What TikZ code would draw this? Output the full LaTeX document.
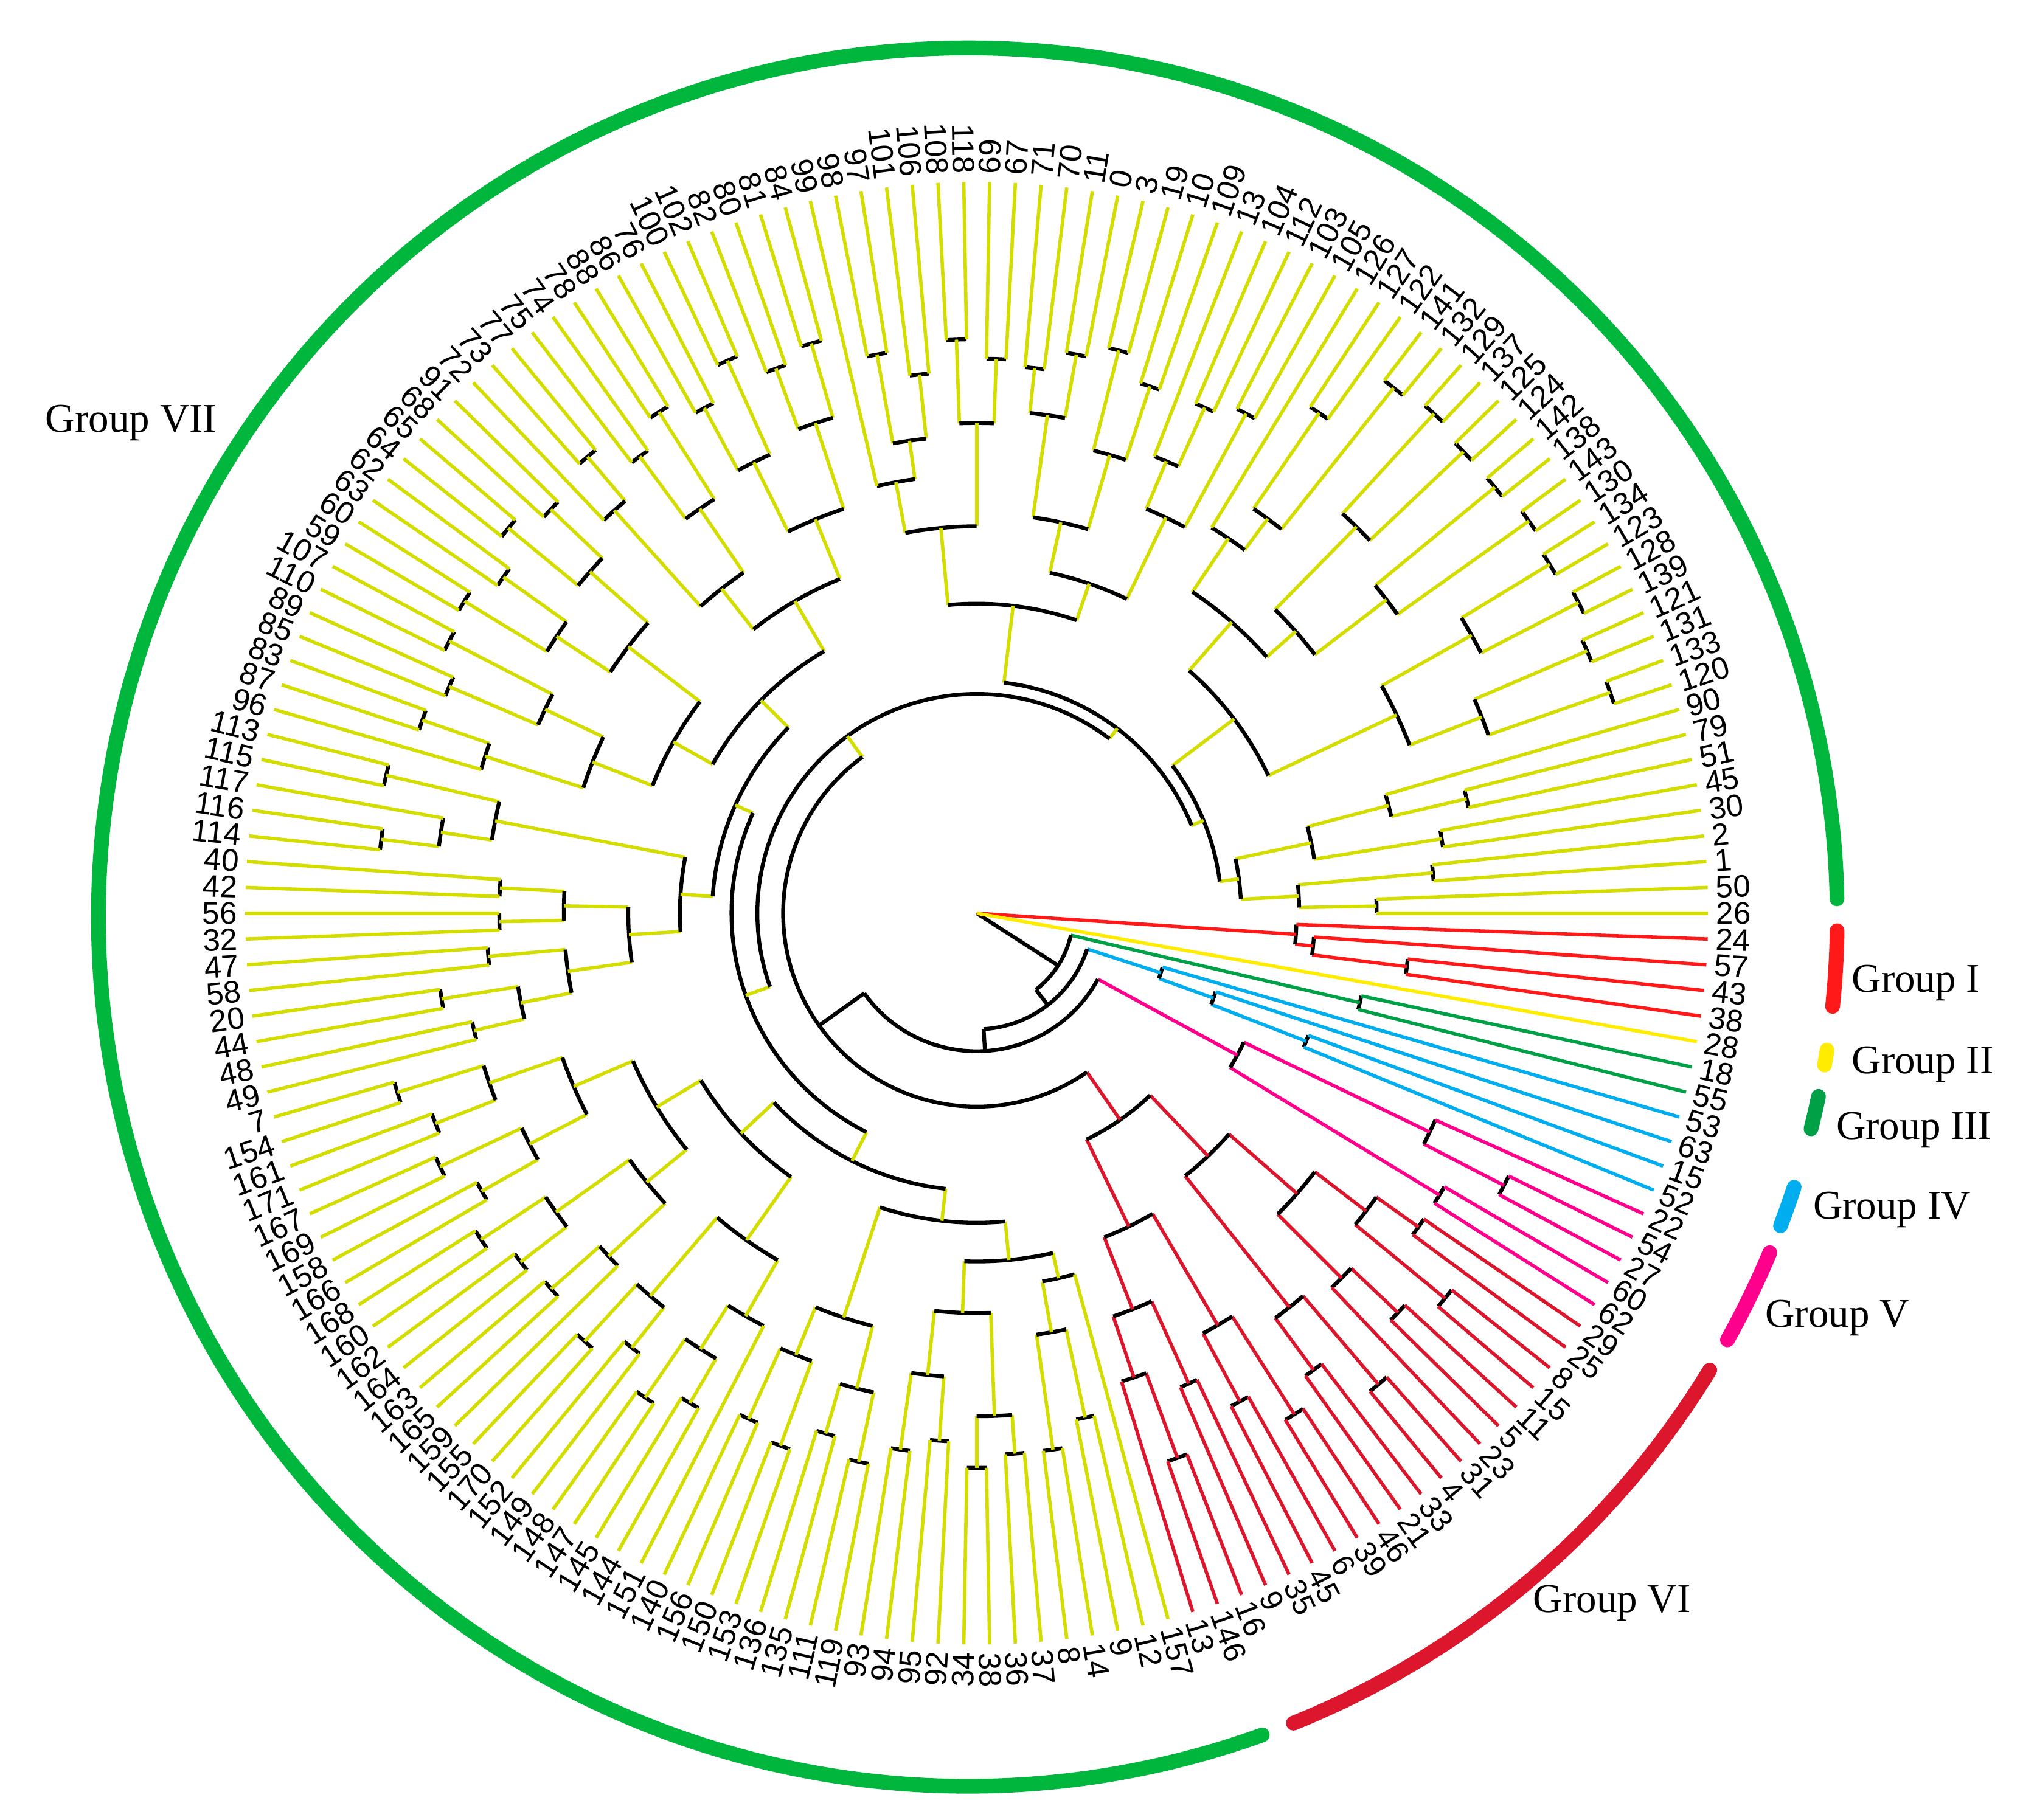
\documentclass[tikz,border=0pt]{standalone}
\usepackage{fontspec}
\setmainfont{Liberation Serif}
\newfontfamily\lblfont{Liberation Sans}
\definecolor{leafy}{RGB}{212,221,0}
\definecolor{gIred}{RGB}{255,25,25}
\definecolor{gIIyel}{RGB}{255,236,0}
\definecolor{gIIIgrn}{RGB}{0,160,70}
\definecolor{gIVblu}{RGB}{0,174,239}
\definecolor{gVmag}{RGB}{255,0,140}
\definecolor{gVIred}{RGB}{220,22,45}
\definecolor{ringgrn}{RGB}{0,182,60}
\newcommand\Dk{2.02247191}
\newcommand\Rl{567}
\newcommand\Rlab{573}
\tikzset{
 arcs/.style={draw=black,line width=1.7pt},
 br/.style={line width=1.5pt},
 lbl/.style={font=\lblfont\fontsize{13.7}{14}\selectfont, inner sep=0pt},
 grp/.style={font=\fontsize{18}{20}\selectfont, inner sep=0pt, anchor=west},
 ring/.style={line width=6.5pt, line cap=round},
}
\newcommand\cl[5]{%
 \draw[arcs] ({(#1)*\Dk}:#3) arc[start angle={(#1)*\Dk}, end angle={(#2)*\Dk}, radius={#3*0.02cm}];%
 \draw[br,#5] ({((#1)+(#2))/2*\Dk}:#3) -- ({((#1)+(#2))/2*\Dk}:#4);}
\newcommand\cy[4]{\cl{#1}{#2}{#3}{#4}{leafy}}
\newcommand\lf[4]{%
 \draw[br,#3] ({(#1)*\Dk}:\Rl) -- ({(#1)*\Dk}:#2);%
 \pgfmathsetmacro\lang{(#1)*\Dk}%
 \ifdim\lang pt>90pt\relax
   \ifdim\lang pt<270pt\relax
     \node[lbl,anchor=east,rotate=\lang-180] (L#1) at (\lang:\Rlab) {#4};%
   \else
     \node[lbl,anchor=west,rotate=\lang] (L#1) at (\lang:\Rlab) {#4};%
   \fi
 \else
   \node[lbl,anchor=west,rotate=\lang] (L#1) at (\lang:\Rlab) {#4};%
 \fi}
\begin{document}
\begin{tikzpicture}[x=0.02cm,y=0.02cm]
\useasboundingbox (-757,-703) rectangle (811,708);
\coordinate (root) at (0,0);
% ---------------- Group VII clades
\cy{0}{1}{310}{250}\cy{2}{3}{355}{250}\cy{0.5}{2.5}{250}{205}
\cy{4}{5}{365}{265}\cy{6}{7}{390}{330}\cy{6.5}{8}{330}{265}
\cy{4.5}{7.25}{265}{205}\cy{1.5}{5.875}{205}{190}
\cy{9}{10}{520}{420}\cy{11}{12}{515}{420}\cy{13}{14}{525}{440}\cy{15}{16}{520}{440}
\cy{17}{18}{525}{400}\cy{19}{20}{520}{400}\cy{21}{22}{520}{420}\cy{23}{24}{525}{420}
\cy{25}{26}{520}{380}\cy{27}{28}{470}{380}
\cy{9.5}{11.5}{420}{360}\cy{13.5}{15.5}{440}{360}\cy{10.5}{14.5}{360}{250}
\cy{17.5}{19.5}{400}{330}\cy{21.5}{23.5}{420}{330}\cy{18.5}{22.5}{330}{300}
\cy{25.5}{27.5}{380}{350}\cy{26.5}{29}{350}{300}\cy{20.5}{27.75}{300}{250}
\cy{12.5}{24.125}{250}{190}\cy{3.6875}{18.3125}{190}{180}
\cy{30}{31}{440}{340}\cy{32}{33}{430}{380}\cy{32.5}{34}{380}{340}\cy{30.5}{33.25}{340}{270}
\cy{35}{36}{430}{370}\cy{37}{38}{450}{370}\cy{35.5}{37.5}{370}{310}
\cy{39}{40}{440}{390}\cy{41}{42}{425}{390}\cy{39.5}{41.5}{390}{310}
\cy{36.5}{40.5}{310}{270}\cy{31.875}{38.5}{270}{240}
\cy{43}{44}{430}{380}\cy{45}{46}{445}{380}\cy{43.5}{45.5}{380}{300}
\cy{47}{48}{420}{370}\cy{49}{50}{440}{370}\cy{47.5}{49.5}{370}{340}\cy{48.5}{51}{340}{300}
\cy{44.5}{49.75}{300}{240}\cy{35.1875}{47.125}{240}{180}
\cy{11}{41.15625}{180}{170}
\cy{52}{53}{460}{400}\cy{54}{55}{450}{400}\cy{52.5}{54.5}{400}{330}
\cy{56}{57}{470}{390}\cy{58}{59}{445}{390}\cy{56.5}{58.5}{390}{330}\cy{53.5}{57.5}{330}{280}
\cy{60}{61}{460}{380}\cy{62}{63}{440}{380}\cy{60.5}{62.5}{380}{320}
\cy{64}{65}{465}{420}\cy{64.5}{66}{420}{320}\cy{61.5}{65.25}{320}{280}\cy{55.5}{63.375}{280}{235}
\cy{67}{68}{455}{400}\cy{69}{70}{470}{400}\cy{67.5}{69.5}{400}{340}
\cy{71}{72}{450}{390}\cy{73}{74}{465}{390}\cy{71.5}{73.5}{390}{340}\cy{68.5}{72.5}{340}{270}
\cy{75}{76}{460}{370}\cy{77}{78}{445}{370}\cy{75.5}{77.5}{370}{320}
\cy{79}{80}{455}{400}\cy{79.5}{81}{400}{320}\cy{76.5}{80.25}{320}{270}
\cy{70.5}{78.375}{270}{235}\cy{59.4375}{74.4375}{235}{205}
\cy{82}{83}{470}{380}\cy{85}{86}{465}{420}\cy{84}{85.5}{420}{380}\cy{82.5}{84.75}{380}{230}
\cy{87}{88}{370}{320}\cy{89}{90}{370}{320}\cy{87.5}{89.5}{320}{270}
\cy{91}{92}{380}{320}\cy{93}{94}{420}{360}\cy{95}{96}{400}{360}\cy{93.5}{95.5}{360}{320}
\cy{91.5}{94.5}{320}{270}\cy{88.5}{93}{270}{230}\cy{83.625}{90.75}{230}{205}
\cy{66.9375}{87.1875}{205}{190}
\cy{97}{98}{470}{400}\cy{99}{100}{450}{400}\cy{97.5}{99.5}{400}{340}
\cy{101}{102}{460}{390}\cy{103}{104}{440}{390}\cy{101.5}{103.5}{390}{340}\cy{98.5}{102.5}{340}{290}
\cy{105}{106}{460}{400}\cy{107}{108}{445}{400}\cy{105.5}{107.5}{400}{330}
\cy{109}{110}{440}{390}\cy{109.5}{111}{390}{330}\cy{106.5}{110.25}{330}{290}
\cy{100.5}{108.375}{290}{250}
\cy{112}{113}{450}{390}\cy{114}{115}{430}{390}\cy{112.5}{114.5}{390}{310}
\cy{116}{117}{455}{400}\cy{118}{119}{440}{400}\cy{116.5}{118.5}{400}{360}\cy{117.5}{120}{360}{310}
\cy{113.5}{118.75}{310}{250}\cy{104.4375}{116.125}{250}{215}
\cy{121}{122}{430}{370}\cy{123}{124}{440}{370}\cy{121.5}{123.5}{370}{330}
\cy{125}{126}{420}{380}\cy{127}{128}{435}{380}\cy{125.5}{127.5}{380}{330}\cy{122.5}{126.5}{330}{240}
\cy{129}{130}{420}{360}\cy{131}{132}{410}{360}\cy{129.5}{131.5}{360}{310}
\cy{133}{134}{430}{390}\cy{135}{136}{420}{390}\cy{133.5}{135.5}{390}{310}\cy{130.5}{134.5}{310}{270}
\cy{137}{138}{420}{330}\cy{139}{140}{400}{330}\cy{137.5}{139.5}{330}{290}\cy{138.5}{141}{290}{270}
\cy{132.5}{139.75}{270}{240}\cy{124.5}{136.125}{240}{215}
\cy{110.28125}{130.3125}{215}{190}
\cy{77.0625}{120.296875}{190}{170}
\cy{26.078125}{98.6796875}{170}{150}
% ---------------- Group VI
\cl{-17}{-18}{420}{380}{gVIred}\cl{-19}{-20}{470}{380}{gVIred}\cl{-17.5}{-19.5}{380}{330}{gVIred}
\cl{-21}{-22}{450}{400}{gVIred}\cl{-21.5}{-23}{400}{330}{gVIred}\cl{-18.5}{-22.25}{330}{260}{gVIred}
\cl{-24}{-25}{480}{390}{gVIred}\cl{-26}{-27}{440}{390}{gVIred}\cl{-24.5}{-26.5}{390}{260}{gVIred}
\cl{-20.375}{-25.5}{260}{195}{gVIred}
\cl{-28}{-29}{460}{370}{gVIred}\cl{-30}{-31}{430}{370}{gVIred}\cl{-28.5}{-30.5}{370}{270}{gVIred}
\cl{-32}{-33}{400}{330}{gVIred}\cl{-34}{-35}{450}{380}{gVIred}\cl{-34.5}{-36}{380}{330}{gVIred}
\cl{-32.5}{-35.25}{330}{270}{gVIred}\cl{-29.5}{-33.875}{270}{195}{gVIred}
\cl{-22.9375}{-31.6875}{195}{150}{gVIred}
% ---------------- Group V
\cl{-13}{-14}{460}{390}{gVmag}\cl{-12}{-13.5}{390}{230}{gVmag}\cl{-15}{-16}{420}{230}{gVmag}
\cl{-12.75}{-15.5}{230}{107}{gVmag}
% ---------------- Group IV
\cl{-10}{-11}{274}{195}{gIVblu}\cl{-9}{-10.5}{195}{150}{gIVblu}\cl{-8}{-9.75}{150}{90}{gIVblu}
% ---------------- Group III
\cl{-6}{-7}{305}{75}{gIIIgrn}
% ---------------- Group I
\cl{-3}{-4}{336}{262}{gIred}\cl{-2}{-3.5}{262}{248}{gIred}\cl{-1}{-2.75}{248}{0}{gIred}
% ---------------- basal nodes
\pgfmathsetmacro\aG{62.37890625*\Dk}
\pgfmathsetmacro\aVI{-27.3125*\Dk+360}
\pgfmathsetmacro\aNf{(\aG+\aVI)/2}
\pgfmathsetmacro\aV{-14.125*\Dk+360}
\pgfmathsetmacro\aNt{(\aNf+\aV)/2}
\pgfmathsetmacro\aIV{-8.875*\Dk+360}
\pgfmathsetmacro\aNs{(\aNt+\aIV)/2}
\pgfmathsetmacro\aIII{-6.5*\Dk+360}
\pgfmathsetmacro\aNo{(\aNs+\aIII)/2}
\draw[arcs] (\aG:150) arc[start angle=\aG, end angle=\aVI, radius=3cm];
\draw[arcs] (\aNf:150) -- (\aNf:107);
\draw[arcs] (\aNf:107) arc[start angle=\aNf, end angle=\aV, radius=2.14cm];
\draw[arcs] (\aNt:107) -- (\aNt:90);
\draw[arcs] (\aNt:90) arc[start angle=\aNt, end angle=\aIV, radius=1.8cm];
\draw[arcs] (\aNs:90) -- (\aNs:75);
\draw[arcs] (\aNs:75) arc[start angle=\aNs, end angle=\aIII, radius=1.5cm];
\draw[arcs] (\aNo:75) -- (root);
% ---------------- leaves
\foreach \k/\r/\t in {0/310/26,1/310/50,2/355/1,3/355/2,4/365/30,5/365/45,6/390/51,7/390/79,8/330/90,9/520/120,10/520/133,11/515/131,12/515/121,13/525/139,14/525/128,15/520/123,16/520/134,17/525/130,18/525/143,19/520/138,20/520/142,21/520/124,22/520/125,23/525/137,24/525/129,25/520/132,26/520/141,27/470/122,28/470/127,29/350/126,30/440/105,31/440/103,32/430/112,33/430/104,34/380/13,35/430/109,36/430/10,37/450/19,38/450/3,39/440/0,40/440/11,41/425/70,42/425/71,43/430/67,44/430/69,45/445/118,46/445/108,47/420/106,48/420/101,49/440/97,50/440/98,51/340/99,52/460/84,53/460/81,54/450/80,55/450/82,56/470/102,57/470/100,58/445/76,59/445/86,60/460/88,61/460/78,62/440/74,63/440/75,64/465/77,65/465/73,66/420/72,67/455/91,68/455/68,69/470/65,70/470/64,71/450/62,72/450/63,73/465/60,74/465/59,75/460/107,76/460/110,77/445/89,78/445/85,79/455/83,80/455/87,81/400/96,82/470/113,83/470/115,84/420/117,85/465/116,86/465/114,87/370/40,88/370/42,89/370/56,90/370/32,91/380/47,92/380/58,93/420/20,94/420/44,95/400/48,96/400/49,97/470/7,98/470/154,99/450/161,100/450/171,101/460/167,102/460/169,103/440/158,104/440/166,105/460/168,106/460/160,107/445/162,108/445/164,109/440/163,110/440/165,111/390/159,112/450/155,113/450/170,114/430/152,115/430/149,116/455/148,117/455/147,118/440/145,119/440/144,120/360/151,121/430/140,122/430/156,123/440/150,124/440/153,125/420/136,126/420/135,127/435/111,128/435/119,129/420/93,130/420/94,131/410/95,132/410/92,133/430/34,134/430/38,135/420/36,136/420/37,137/420/8,138/420/14,139/400/9,140/400/12,141/290/157}
 {\lf{\k}{\r}{leafy}{\t}}
\foreach \k/\r/\t in {-17/420/29,-18/420/25,-19/470/8,-20/470/15,-21/450/11,-22/450/5,-23/400/23,-24/480/31,-25/480/4,-26/440/33,-27/440/21,-28/460/46,-29/460/39,-30/430/6,-31/430/45,-32/400/35,-33/400/9,-34/450/16,-35/450/146,-36/380/13}
 {\lf{\k}{\r}{gVIred}{\t}}
\foreach \k/\r/\t in {-12/390/22,-13/460/54,-14/460/27,-15/420/60,-16/420/62}
 {\lf{\k}{\r}{gVmag}{\t}}
\foreach \k/\r/\t in {-8/150/53,-9/195/63,-10/274/15,-11/274/52}
 {\lf{\k}{\r}{gIVblu}{\t}}
\foreach \k/\r/\t in {-6/305/18,-7/305/55}
 {\lf{\k}{\r}{gIIIgrn}{\t}}
\lf{-5}{0}{gIIyel}{28}
\foreach \k/\r/\t in {-1/248/24,-2/262/57,-3/336/43,-4/336/38}
 {\lf{\k}{\r}{gIred}{\t}}
% ---------------- outer group rings
\begin{scope}[shift={(-7,-3)}]
\draw[ring,ringgrn] (1.2:674) arc[start angle=1.2, end angle=289.8, radius=13.48cm];
\draw[ring,gVIred] (292:674) arc[start angle=292, end angle=328.6, radius=13.48cm];
\draw[ring,gVmag] (330.9:674) arc[start angle=330.9, end angle=337.3, radius=13.48cm];
\draw[ring,gIVblu] (339.2:674) arc[start angle=339.2, end angle=341.9, radius=13.48cm];
\draw[ring,gIIIgrn] (345.9:674) arc[start angle=345.9, end angle=348.1, radius=13.48cm];
\draw[ring,gIIyel] (350.2:674) arc[start angle=350.2, end angle=351.2, radius=13.48cm];
\draw[ring,gIred] (354.1:674) arc[start angle=354.1, end angle=359.1, radius=13.48cm];
\end{scope}
% ---------------- group labels
\node[grp] (g7) at (-722,380) {Group VII};
\node[grp] (g1) at (678,-54) {Group I};
\node[grp] (g2) at (678,-117) {Group II};
\node[grp] (g3) at (666,-168) {Group III};
\node[grp] (g4) at (648,-230) {Group IV};
\node[grp] (g5) at (611,-314) {Group V};
\node[grp] (g6) at (431,-535) {Group VI};
\end{tikzpicture}
\end{document}
